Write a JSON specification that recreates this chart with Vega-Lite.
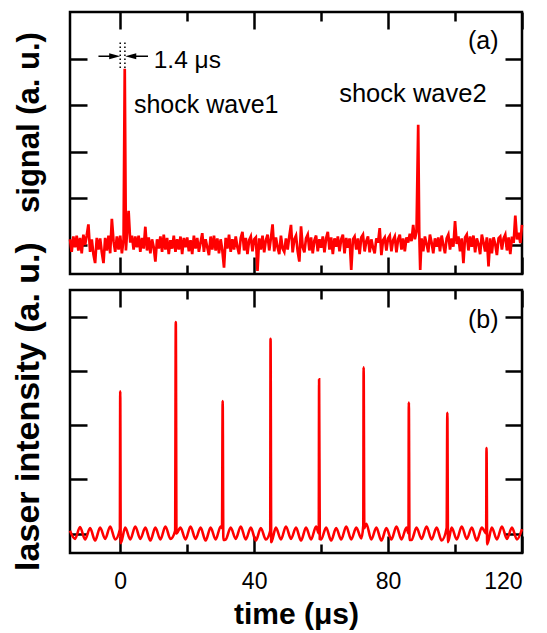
{
  "$schema": "https://vega.github.io/schema/vega-lite/v6.json",
  "padding": {"left": 9, "top": 9, "right": 5, "bottom": 5},
  "background": "white",
  "bounds": "flush",
  "config": {
    "font": "Liberation Sans",
    "view": {"stroke": "black", "strokeWidth": 2.5},
    "axis": {"domain": false, "grid": false, "tickColor": "black", "tickWidth": 2.5, "labelColor": "black", "titleColor": "black", "labelFont": "Liberation Sans", "titleFont": "Liberation Sans"},
    "text": {"font": "Liberation Sans", "color": "black"}
  },
  "datasets": {
    "a": [
      {"t":-15,"v":0.12},{"t":-14.5,"v":-0.15},{"t":-14,"v":0.18},{"t":-13.5,"v":-0.05},{"t":-13,"v":0.2},{"t":-12.5,"v":-0.12},{"t":-12,"v":0.15},{"t":-11.5,"v":-0.18},{"t":-11,"v":0.22},{"t":-10.5,"v":0.0},
      {"t":-10,"v":0.2},{"t":-9.5,"v":0.44},{"t":-9,"v":-0.15},{"t":-8.5,"v":0.12},{"t":-8,"v":-0.2},{"t":-7.5,"v":-0.39},{"t":-7,"v":0.15},{"t":-6.5,"v":-0.1},{"t":-6,"v":0.14},{"t":-5.5,"v":-0.16},
      {"t":-5,"v":-0.39},{"t":-4.5,"v":0.15},{"t":-4,"v":-0.12},{"t":-3.5,"v":0.2},{"t":-3,"v":-0.18},{"t":-2.5,"v":0.56},{"t":-2,"v":0.08},{"t":-1.5,"v":-0.15},{"t":-1,"v":0.18},{"t":-0.5,"v":-0.1},
      {"t":0,"v":0.2},{"t":0.5,"v":-0.18},{"t":1,"v":0.12},{"t":1.35,"v":3.78},{"t":1.7,"v":-0.12},{"t":2,"v":0.22},{"t":2.5,"v":0.73},{"t":3,"v":0.05},{"t":3.5,"v":0.2},{"t":4,"v":-0.1},{"t":4.5,"v":0.18},
      {"t":5,"v":-0.05},{"t":5.5,"v":0.2},{"t":6,"v":-0.15},{"t":6.5,"v":0.15},{"t":7,"v":-0.08},{"t":7.5,"v":0.39},{"t":8,"v":-0.12},{"t":8.5,"v":0.16},{"t":9,"v":-0.18},{"t":9.5,"v":0.12},
      {"t":10,"v":-0.05},{"t":10.5,"v":-0.36},{"t":11,"v":0.12},{"t":11.5,"v":-0.08},{"t":12,"v":0.18},{"t":12.5,"v":-0.15},{"t":13,"v":0.22},{"t":13.5,"v":-0.1},{"t":14,"v":0.15},{"t":14.5,"v":-0.2},
      {"t":15,"v":0.1},{"t":15.5,"v":-0.08},{"t":16,"v":0.2},{"t":16.5,"v":-0.15},{"t":17,"v":0.12},{"t":17.5,"v":-0.1},{"t":18,"v":0.18},{"t":18.5,"v":-0.2},{"t":19,"v":0.15},{"t":19.5,"v":-0.05},
      {"t":20,"v":0.16},{"t":20.5,"v":-0.14},{"t":21,"v":0.1},{"t":21.5,"v":-0.2},{"t":22,"v":0.2},{"t":22.5,"v":-0.08},{"t":23,"v":0.15},{"t":23.5,"v":-0.15},{"t":24,"v":0.05},{"t":24.5,"v":0.25},
      {"t":25,"v":-0.15},{"t":25.5,"v":0.12},{"t":26,"v":-0.05},{"t":26.5,"v":-0.22},{"t":27,"v":0.18},{"t":27.5,"v":-0.1},{"t":28,"v":0.2},{"t":28.5,"v":-0.12},{"t":29,"v":0.14},{"t":29.5,"v":-0.18},
      {"t":30,"v":0.12},{"t":30.5,"v":-0.12},{"t":31,"v":-0.49},{"t":31.5,"v":0.15},{"t":32,"v":-0.08},{"t":32.5,"v":0.22},{"t":33,"v":-0.15},{"t":33.5,"v":0.12},{"t":34,"v":-0.1},{"t":34.5,"v":0.18},
      {"t":35,"v":-0.05},{"t":35.5,"v":-0.2},{"t":36,"v":0.15},{"t":36.5,"v":0.28},{"t":37,"v":-0.12},{"t":37.5,"v":0.15},{"t":38,"v":-0.2},{"t":38.5,"v":0.1},{"t":39,"v":0.18},{"t":39.5,"v":-0.14},
      {"t":40,"v":0.12},{"t":40.5,"v":0.16},{"t":41,"v":-0.56},{"t":41.5,"v":0.14},{"t":42,"v":-0.1},{"t":42.5,"v":0.2},{"t":43,"v":-0.16},{"t":43.5,"v":0.1},{"t":44,"v":0.22},{"t":44.5,"v":-0.12},
      {"t":45,"v":0.14},{"t":45.5,"v":0.44},{"t":46,"v":-0.14},{"t":46.5,"v":0.16},{"t":47,"v":-0.05},{"t":47.5,"v":-0.2},{"t":48,"v":0.2},{"t":48.5,"v":-0.08},{"t":49,"v":-0.15},{"t":49.5,"v":0.14},
      {"t":50,"v":-0.1},{"t":50.5,"v":0.18},{"t":51,"v":0.43},{"t":51.5,"v":-0.16},{"t":52,"v":0.12},{"t":52.5,"v":0.2},{"t":53,"v":-0.14},{"t":53.5,"v":-0.36},{"t":54,"v":0.4},{"t":54.5,"v":-0.05},
      {"t":55,"v":-0.16},{"t":55.5,"v":0.14},{"t":56,"v":0.22},{"t":56.5,"v":-0.12},{"t":57,"v":0.16},{"t":57.5,"v":-0.18},{"t":58,"v":0.1},{"t":58.5,"v":0.2},{"t":59,"v":-0.14},{"t":59.5,"v":0.12},
      {"t":60,"v":-0.06},{"t":60.5,"v":0.18},{"t":61,"v":-0.16},{"t":61.5,"v":0.14},{"t":62,"v":0.28},{"t":62.5,"v":-0.1},{"t":63,"v":0.16},{"t":63.5,"v":-0.2},{"t":64,"v":0.14},{"t":64.5,"v":-0.04},
      {"t":65,"v":0.18},{"t":65.5,"v":-0.14},{"t":66,"v":0.12},{"t":66.5,"v":0.22},{"t":67,"v":-0.18},{"t":67.5,"v":0.15},{"t":68,"v":-0.06},{"t":68.5,"v":0.14},{"t":69,"v":-0.54},{"t":69.5,"v":0.12},
      {"t":70,"v":0.18},{"t":70.5,"v":-0.1},{"t":71,"v":0.14},{"t":71.5,"v":-0.2},{"t":72,"v":0.16},{"t":72.5,"v":0.22},{"t":73,"v":-0.14},{"t":73.5,"v":0.08},{"t":74,"v":0.18},{"t":74.5,"v":-0.16},
      {"t":75,"v":0.12},{"t":75.5,"v":-0.06},{"t":76,"v":-0.18},{"t":76.5,"v":0.14},{"t":77,"v":0.05},{"t":77.5,"v":0.36},{"t":78,"v":-0.22},{"t":78.5,"v":0.1},{"t":79,"v":0.16},{"t":79.5,"v":-0.12},
      {"t":80,"v":0.14},{"t":80.5,"v":0.2},{"t":81,"v":-0.14},{"t":81.5,"v":0.1},{"t":82,"v":0.18},{"t":82.5,"v":-0.16},{"t":83,"v":0.12},{"t":83.5,"v":0.22},{"t":84,"v":-0.1},{"t":84.5,"v":0.14},
      {"t":85,"v":-0.14},{"t":85.5,"v":0.16},{"t":86,"v":0.05},{"t":86.5,"v":0.24},{"t":87,"v":0.08},{"t":87.5,"v":0.43},{"t":88,"v":0.12},{"t":88.5,"v":0.28},{"t":89,"v":2.58},{"t":89.3,"v":0.3},{"t":89.6,"v":-0.54},
      {"t":90,"v":0.14},{"t":90.5,"v":-0.14},{"t":91,"v":0.18},{"t":91.5,"v":0.02},{"t":92,"v":-0.16},{"t":92.5,"v":0.22},{"t":93,"v":0.05},{"t":93.5,"v":-0.18},{"t":94,"v":0.14},{"t":94.5,"v":-0.04},
      {"t":95,"v":0.16},{"t":95.5,"v":-0.14},{"t":96,"v":0.2},{"t":96.5,"v":0.0},{"t":97,"v":-0.18},{"t":97.5,"v":0.14},{"t":98,"v":0.22},{"t":98.5,"v":-0.1},{"t":99,"v":0.14},{"t":99.5,"v":-0.04},
      {"t":100,"v":0.51},{"t":100.5,"v":0.02},{"t":101,"v":0.18},{"t":101.5,"v":-0.14},{"t":102,"v":0.14},{"t":102.5,"v":-0.39},{"t":103,"v":0.16},{"t":103.5,"v":0.22},{"t":104,"v":-0.12},{"t":104.5,"v":0.18},
      {"t":105,"v":-0.04},{"t":105.5,"v":0.2},{"t":106,"v":-0.16},{"t":106.5,"v":0.14},{"t":107,"v":0.02},{"t":107.5,"v":-0.2},{"t":108,"v":0.22},{"t":108.5,"v":0.05},{"t":109,"v":-0.14},{"t":109.5,"v":0.16},
      {"t":110,"v":-0.46},{"t":110.5,"v":0.14},{"t":111,"v":-0.18},{"t":111.5,"v":0.16},{"t":112,"v":0.02},{"t":112.5,"v":-0.22},{"t":113,"v":0.14},{"t":113.5,"v":0.18},{"t":114,"v":-0.1},{"t":114.5,"v":0.14},
      {"t":115,"v":0.22},{"t":115.5,"v":-0.12},{"t":116,"v":0.16},{"t":116.5,"v":-0.2},{"t":117,"v":0.18},{"t":117.5,"v":0.04},{"t":118,"v":0.63},{"t":118.5,"v":0.12},{"t":119,"v":0.26},{"t":119.5,"v":0.04},{"t":120,"v":0.43}
    ],
    "b": [
      {"t":-15,"v":0.05},{"t":-13.5,"v":-0.1},{"t":-12,"v":0.12},{"t":-10.5,"v":-0.11},{"t":-9,"v":0.1},{"t":-7.5,"v":-0.13},{"t":-6,"v":0.11},{"t":-4.5,"v":-0.1},{"t":-3,"v":0.13},{"t":-1.5,"v":-0.11},
      {"t":-0.1,"v":0.08},{"t":0,"v":2.63},{"t":0.15,"v":-0.18},{"t":1.5,"v":0.11},{"t":3,"v":-0.11},{"t":4.5,"v":0.13},{"t":6,"v":-0.1},{"t":7.5,"v":0.11},{"t":9,"v":-0.13},{"t":10.5,"v":0.11},{"t":12,"v":-0.11},{"t":13.5,"v":0.13},{"t":15,"v":-0.1},
      {"t":16.4,"v":0.05},{"t":16.6,"v":3.91},{"t":16.8,"v":0.0},{"t":18,"v":0.11},{"t":19.5,"v":-0.11},{"t":21,"v":0.13},{"t":22.5,"v":-0.1},{"t":24,"v":0.11},{"t":25.5,"v":-0.13},{"t":27,"v":0.11},{"t":28.5,"v":-0.11},{"t":30,"v":0.13},
      {"t":30.4,"v":0.1},{"t":30.6,"v":2.45},{"t":30.8,"v":-0.12},{"t":31.5,"v":-0.11},{"t":33,"v":0.11},{"t":34.5,"v":-0.1},{"t":36,"v":0.13},{"t":37.5,"v":-0.11},{"t":39,"v":0.11},{"t":40.5,"v":-0.13},{"t":42,"v":0.1},{"t":43.5,"v":-0.11},
      {"t":44.8,"v":0.05},{"t":44.9,"v":3.6},{"t":45.1,"v":-0.16},{"t":46.5,"v":0.11},{"t":48,"v":-0.11},{"t":49.5,"v":0.13},{"t":51,"v":-0.1},{"t":52.5,"v":0.11},{"t":54,"v":-0.13},{"t":55.5,"v":0.11},{"t":57,"v":-0.11},{"t":58.5,"v":0.13},
      {"t":59.3,"v":0.0},{"t":59.4,"v":2.85},{"t":59.6,"v":-0.1},{"t":60,"v":-0.11},{"t":61.5,"v":0.11},{"t":63,"v":-0.13},{"t":64.5,"v":0.1},{"t":66,"v":-0.11},{"t":67.5,"v":0.13},{"t":69,"v":-0.11},{"t":70.5,"v":0.11},{"t":72,"v":-0.09},
      {"t":72.6,"v":0.15},{"t":72.7,"v":3.07},{"t":72.9,"v":0.1},{"t":73.5,"v":0.18},{"t":75,"v":-0.11},{"t":76.5,"v":0.11},{"t":78,"v":-0.13},{"t":79.5,"v":0.1},{"t":81,"v":-0.11},{"t":82.5,"v":0.13},{"t":84,"v":-0.11},{"t":85.5,"v":0.11},
      {"t":86.1,"v":0.0},{"t":86.2,"v":2.42},{"t":86.4,"v":-0.12},{"t":87,"v":-0.12},{"t":88.5,"v":0.11},{"t":90,"v":-0.1},{"t":91.5,"v":0.13},{"t":93,"v":-0.11},{"t":94.5,"v":0.11},{"t":96,"v":-0.13},
      {"t":97.5,"v":0.1},{"t":97.7,"v":2.23},{"t":97.9,"v":-0.16},{"t":99,"v":0.11},{"t":100.5,"v":-0.11},{"t":102,"v":0.13},{"t":103.5,"v":-0.1},{"t":105,"v":0.11},{"t":106.5,"v":-0.13},{"t":108,"v":0.11},
      {"t":109.3,"v":0.0},{"t":109.4,"v":1.58},{"t":109.6,"v":-0.2},{"t":111,"v":0.11},{"t":112.5,"v":-0.11},{"t":114,"v":0.13},{"t":115.5,"v":-0.1},{"t":117,"v":0.11},{"t":118.5,"v":-0.11},{"t":120,"v":0.08}
    ]
  },
  "spacing": 16,
  "vconcat": [
    {
      "width": 452,
      "height": 262,
      "resolve": {"axis": {"x": "independent", "y": "independent"}},
      "layer": [
        {
          "data": {"name": "a"},
          "mark": {"type": "line", "color": "#ff0000", "strokeWidth": 2.7},
          "encoding": {
            "x": {"field": "t", "type": "quantitative", "scale": {"domain": [-15, 120], "nice": false, "zero": false},
                  "axis": {"orient": "bottom", "values": [0, 20, 40, 60, 80, 100, 120], "labels": false, "title": null,
                           "tickSize": {"condition": {"test": "datum.value % 40 === 0", "value": -17}, "value": -9}}},
            "y": {"field": "v", "type": "quantitative", "scale": {"domain": [-0.625, 5], "nice": false, "zero": false},
                  "axis": {"orient": "left", "values": [0, 1, 2, 3, 4], "labels": false, "tickSize": -17,
                           "title": "signal (a. u.)", "titleFontSize": 31, "titleFontWeight": "bold",
                           "titleAngle": 270, "titleAlign": "center", "titleBaseline": "alphabetic", "titleX": -32, "titleY": 110}}
          }
        },
        {
          "data": {"values": [{}]},
          "mark": {"type": "text", "text": "(a)", "align": "right", "baseline": "alphabetic", "fontSize": 25},
          "encoding": {
            "x": {"datum": 113, "type": "quantitative",
                  "axis": {"orient": "top", "values": [0, 20, 40, 60, 80, 100, 120], "labels": false, "title": null,
                           "tickSize": {"condition": {"test": "datum.value % 40 === 0", "value": -17}, "value": -9}}},
            "y": {"datum": 4.2, "type": "quantitative",
                  "axis": {"orient": "right", "values": [0, 1, 2, 3, 4], "labels": false, "tickSize": -17, "title": null}}
          }
        },
        {
          "data": {"values": [{}]},
          "mark": {"type": "text", "text": "shock wave1", "align": "left", "baseline": "alphabetic", "fontSize": 25},
          "encoding": {"x": {"datum": 4.1, "type": "quantitative", "axis": null}, "y": {"datum": 2.83, "type": "quantitative", "axis": null}}
        },
        {
          "data": {"values": [{}]},
          "mark": {"type": "text", "text": "shock wave2", "align": "left", "baseline": "alphabetic", "fontSize": 25.5},
          "encoding": {"x": {"datum": 65.4, "type": "quantitative", "axis": null}, "y": {"datum": 3.07, "type": "quantitative", "axis": null}}
        },
        {
          "data": {"values": [{}]},
          "mark": {"type": "text", "text": "1.4 μs", "align": "left", "baseline": "alphabetic", "fontSize": 24.5},
          "encoding": {"x": {"datum": 10.0, "type": "quantitative", "axis": null}, "y": {"datum": 3.8, "type": "quantitative", "axis": null}}
        },
        {
          "data": {"values": [{}]},
          "mark": {"type": "rule", "color": "black", "strokeWidth": 1.5, "strokeDash": [1.5, 2.5]},
          "encoding": {"x": {"datum": 0, "type": "quantitative", "axis": null}, "y": {"datum": 3.8, "type": "quantitative", "axis": null}, "y2": {"datum": 4.37}}
        },
        {
          "data": {"values": [{}]},
          "mark": {"type": "rule", "color": "black", "strokeWidth": 1.5, "strokeDash": [1.5, 2.5]},
          "encoding": {"x": {"datum": 1.4, "type": "quantitative", "axis": null}, "y": {"datum": 3.8, "type": "quantitative", "axis": null}, "y2": {"datum": 4.37}}
        },
        {
          "data": {"values": [{}]},
          "mark": {"type": "rule", "color": "black", "strokeWidth": 1.5},
          "encoding": {"x": {"datum": -6.5, "type": "quantitative", "axis": null}, "x2": {"datum": -1.5}, "y": {"datum": 4.05, "type": "quantitative", "axis": null}}
        },
        {
          "data": {"values": [{}]},
          "mark": {"type": "rule", "color": "black", "strokeWidth": 1.5},
          "encoding": {"x": {"datum": 3, "type": "quantitative", "axis": null}, "x2": {"datum": 8.3}, "y": {"datum": 4.05, "type": "quantitative", "axis": null}}
        },
        {
          "data": {"values": [{}]},
          "mark": {"type": "point", "shape": "M-1,-0.55L1,0L-1,0.55Z", "filled": true, "color": "black", "opacity": 1, "size": 121},
          "encoding": {"x": {"datum": -1.65, "type": "quantitative", "axis": null}, "y": {"datum": 4.05, "type": "quantitative", "axis": null}}
        },
        {
          "data": {"values": [{}]},
          "mark": {"type": "point", "shape": "M1,-0.55L-1,0L1,0.55Z", "filled": true, "color": "black", "opacity": 1, "size": 121},
          "encoding": {"x": {"datum": 3.15, "type": "quantitative", "axis": null}, "y": {"datum": 4.05, "type": "quantitative", "axis": null}}
        }
      ]
    },
    {
      "width": 452,
      "height": 263,
      "resolve": {"axis": {"x": "independent", "y": "independent"}},
      "layer": [
        {
          "data": {"name": "b"},
          "mark": {"type": "line", "color": "#ff0000", "strokeWidth": 2.6, "interpolate": "monotone"},
          "encoding": {
            "x": {"field": "t", "type": "quantitative", "scale": {"domain": [-15, 120], "nice": false, "zero": false},
                  "axis": {"orient": "bottom", "values": [0, 20, 40, 60, 80, 100, 120],
                           "labelExpr": "datum.value % 40 === 0 ? datum.label : ''", "labelFontSize": 23, "labelPadding": 34,
                           "title": "time (μs)", "titleFontSize": 30, "titleFontWeight": "bold", "titlePadding": 6,
                           "tickSize": {"condition": {"test": "datum.value % 40 === 0", "value": -17}, "value": -9}}},
            "y": {"field": "v", "type": "quantitative", "scale": {"domain": [-0.36, 4.5], "nice": false, "zero": false},
                  "axis": {"orient": "left", "values": [0, 1, 2, 3, 4], "labels": false, "tickSize": -17,
                           "title": "laser intensity (a. u.)", "titleFontSize": 34, "titleFontWeight": "bold",
                           "titleAngle": 270, "titleAlign": "center", "titleBaseline": "alphabetic", "titleX": -32, "titleY": 116}}
          }
        },
        {
          "data": {"values": [{}]},
          "mark": {"type": "text", "text": "(b)", "align": "right", "baseline": "alphabetic", "fontSize": 25},
          "encoding": {
            "x": {"datum": 113, "type": "quantitative",
                  "axis": {"orient": "top", "values": [0, 20, 40, 60, 80, 100, 120], "labels": false, "title": null,
                           "tickSize": {"condition": {"test": "datum.value % 40 === 0", "value": -17}, "value": -9}}},
            "y": {"datum": 3.8, "type": "quantitative",
                  "axis": {"orient": "right", "values": [0, 1, 2, 3, 4], "labels": false, "tickSize": -17, "title": null}}
          }
        }
      ]
    }
  ]
}
